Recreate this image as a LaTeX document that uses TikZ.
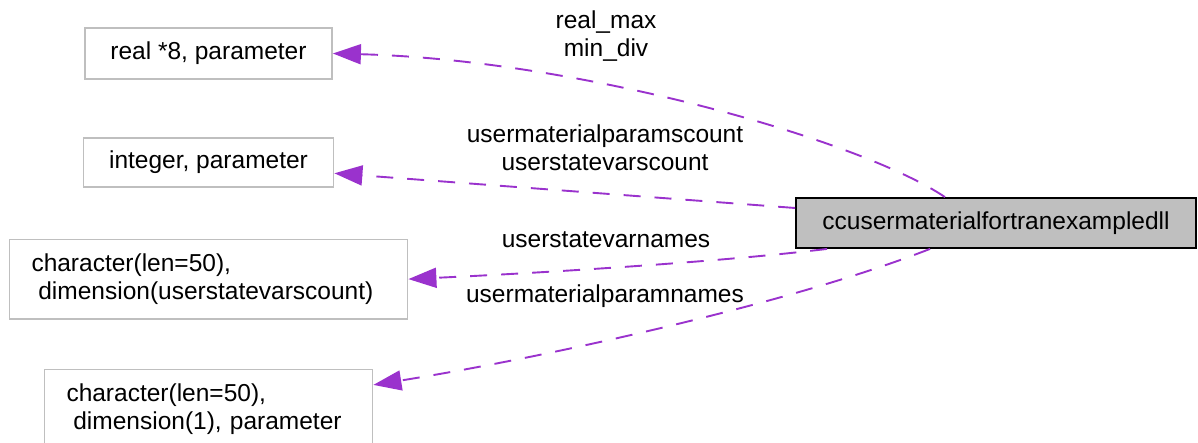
\documentclass[tikz,border=0pt]{standalone}
\usepackage{fontspec}
\setmainfont{Liberation Sans}
\usepackage{tikz}
\usetikzlibrary{arrows.meta,positioning}

\definecolor{edgepurple}{HTML}{9A32CD}
\definecolor{boxgray}{HTML}{BFBFBF}

\begin{document}
\begin{tikzpicture}[x=1pt,y=-1pt]
% STYLES
\tikzset{
    typebox/.style={rectangle, draw=boxgray, fill=white, line width=1.8pt,
    align=center, inner sep=0pt, font=\fontsize{24.5}{28}\selectfont},
    modbox/.style={typebox, draw=black, fill=boxgray, line width=1.8pt,
    minimum width=400pt, minimum height=50pt},
    uses/.style={draw=edgepurple, line width=1.9pt, dash pattern=on 17pt off 14pt,
    -{Triangle[length=28pt,width=20pt,fill=edgepurple]}},
    edgelabel/.style={align=center, inner sep=0pt, font=\fontsize{24.5}{28}\selectfont}
}
\useasboundingbox (0,0) rectangle (1198,443);

\node [modbox] (Module) at (996,223) {ccusermaterialfortranexampledll};
\node [typebox, minimum width=247pt, minimum height=51pt] (RealPar) at (208.5,53.5) {real *8, parameter};
\node [typebox, minimum width=250pt, minimum height=49pt, below=57pt of RealPar] (IntPar) {integer, parameter};
\node [typebox, align=left, text width=354pt, inner xsep=22pt, minimum height=79pt,
       below=51pt of IntPar] (CharDim)
      {character(len=50),\\ \hspace{0.28em}dimension(userstatevarscount)};
\node [typebox, align=left, text width=284pt, inner xsep=22pt, minimum height=79pt,
       below=49pt of CharDim] (CharPar)
      {character(len=50),\\ \hspace{0.28em}dimension(1), parameter};

% the labels sit above their links
\node [edgelabel] (RealLbl) at (606,36) {real\_max\\min\_div};
\node [edgelabel] (IntLbl) at (605,147.5) {usermaterialparamscount\\userstatevarscount};
\node [edgelabel, anchor=base] (DimLbl) at (606,248) {userstatevarnames};
\node [edgelabel, anchor=base] (ParLbl) at (605,302) {usermaterialparamnames};

% Draw the links from the module to its variable types
\draw [uses] ([xshift=-51pt]Module.north) .. controls (860,140) and (580,60) .. (RealPar.east);
\draw [uses] ([yshift=15pt]Module.west) -- ([yshift=-11pt]IntPar.east);
\draw [uses] ([xshift=32pt]Module.south west) .. controls (720,262) and (540,273) .. (CharDim.east);
\draw [uses] ([xshift=-66pt]Module.south) .. controls (800,300) and (560,355) .. ([yshift=24pt]CharPar.east);
\end{tikzpicture}
\end{document}
